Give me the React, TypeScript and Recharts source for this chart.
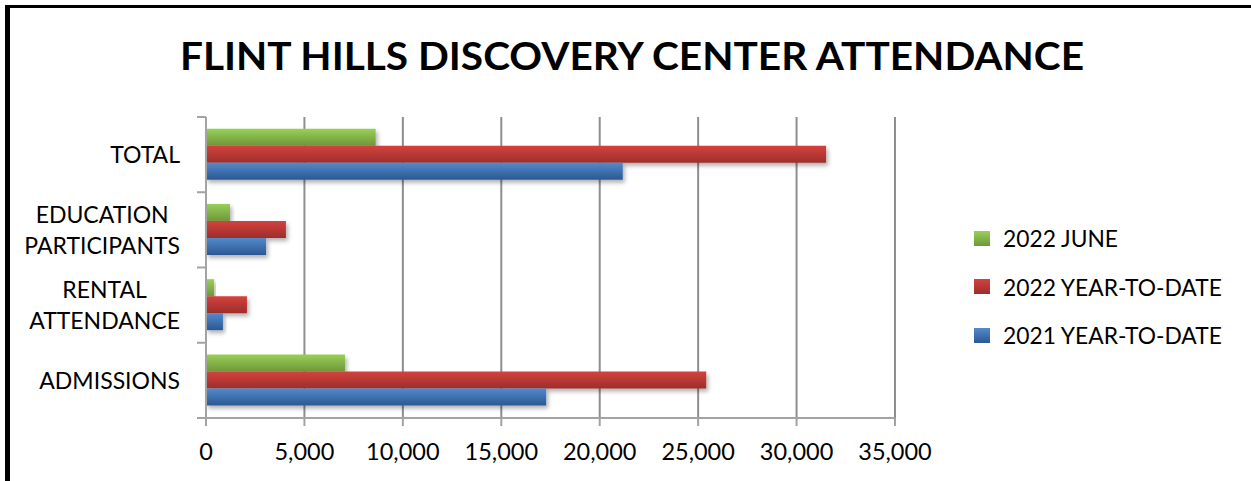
import React from 'react';
import { BarChart, Bar, XAxis, YAxis, CartesianGrid, Legend, Rectangle } from 'recharts';

// ---------- data ----------
const categories = ['TOTAL', 'EDUCATION PARTICIPANTS', 'RENTAL ATTENDANCE', 'ADMISSIONS'];
const june2022 = [8620, 1220, 410, 7060];
const ytd2022 = [31500, 4060, 2080, 25410];
const ytd2021 = [21170, 3050, 860, 17280];
const seriesNames = ['2022 JUNE', '2022 YEAR-TO-DATE', '2021 YEAR-TO-DATE'];
const xTicks = [0, 5000, 10000, 15000, 20000, 25000, 30000, 35000];
const title = 'FLINT HILLS DISCOVERY CENTER ATTENDANCE';

// ---------- styles ----------
const FONT = 'Lato, "Open Sans", sans-serif';
const SERIES = [
  { key: 'june', name: seriesNames[0], top: '#97d157', bottom: '#71963a', id: 'gGreen' },
  { key: 'ytd22', name: seriesNames[1], top: '#d4423e', bottom: '#9d2e2b', id: 'gRed' },
  { key: 'ytd21', name: seriesNames[2], top: '#548acb', bottom: '#2a5894', id: 'gBlue' },
];

const data = categories.map((name, i) => ({
  name,
  june: june2022[i],
  ytd22: ytd2022[i],
  ytd21: ytd2021[i],
}));

const W = 1251;
const H = 481;
const MARGIN = { top: 117, right: 356, bottom: 13, left: 0 };
const X_AXIS_H = 50;
const Y_AXIS_W = 206;
const Y_TICK_SIZE = 9;
const Y_TICK_MARGIN = 17;
const CAT_FONT = 23;
const GRID = '#8e8e8e';
const AXIS = '#a3a3a3';

let measureCtx: CanvasRenderingContext2D | null = null;
function measure(t: string, font: string) {
  if (!measureCtx) measureCtx = document.createElement('canvas').getContext('2d');
  if (!measureCtx) return t.length * 14;
  measureCtx.font = font;
  return measureCtx.measureText(t).width;
}

function CategoryTick(props: any) {
  const { x, y, payload, index, visibleTicksCount } = props;
  const plotH = H - MARGIN.top - MARGIN.bottom - X_AXIS_H;
  const off = payload && typeof payload.offset === 'number' && payload.offset > 0
    ? payload.offset
    : plotH / categories.length / 2;
  const axisX = x + Y_TICK_SIZE + Y_TICK_MARGIN;
  const lines = String(payload.value).split(' ');
  const widths = lines.map((l) => measure(l, `${CAT_FONT}px Lato`));
  const maxW = Math.max(...widths);
  const cx = x - maxW / 2;
  const gap = 31;
  const last = index === (visibleTicksCount ?? categories.length) - 1;
  return (
    <g>
      <line x1={axisX - Y_TICK_SIZE} x2={axisX} y1={y - off} y2={y - off} stroke={AXIS} strokeWidth={2} />
      {last && (
        <line x1={axisX - Y_TICK_SIZE} x2={axisX} y1={y + off} y2={y + off} stroke={AXIS} strokeWidth={2} />
      )}
      <text x={cx} textAnchor="middle" fontFamily={FONT} fontSize={CAT_FONT} fill="#000">
        {lines.map((l, i) => (
          <tspan key={i} x={cx} y={y + (i - (lines.length - 1) / 2) * gap} dy="0.36em">
            {l}
          </tspan>
        ))}
      </text>
    </g>
  );
}

function LegendContent(props: any) {
  const payload = [...(props.payload || [])];
  const order = (p: any) => {
    const i = SERIES.findIndex((q) => q.key === p.dataKey);
    return i < 0 ? 99 : i;
  };
  payload.sort((a, b) => order(a) - order(b));
  return (
    <div style={{ fontFamily: FONT, fontSize: 22.8, color: '#000' }}>
      {payload.map((p: any, i: number) => {
        const s = SERIES.find((q) => q.key === p.dataKey) || SERIES[i];
        return (
          <div key={i} style={{ height: 48.5, display: 'flex', alignItems: 'center', whiteSpace: 'nowrap' }}>
            <span
              style={{
                display: 'inline-block',
                width: 16,
                height: 15,
                marginRight: 13,
                background: `linear-gradient(to bottom, ${s.top}, ${s.bottom})`,
              }}
            />
            <span>{p.value}</span>
          </div>
        );
      })}
    </div>
  );
}

const ShadowBar = (props: any) => <Rectangle {...props} filter="url(#barShadow)" />;

export default function App() {
  return (
    <div style={{ position: 'absolute', left: 0, top: 0, width: W, height: H, background: '#fff', overflow: 'hidden' }}>
      {/* frame */}
      <div style={{ position: 'absolute', left: 5, top: 5, width: W - 5, height: 3, background: '#000' }} />
      <div style={{ position: 'absolute', left: 5, top: 5, width: 5, height: H - 5, background: '#000' }} />

      <div style={{ position: 'absolute', left: 0, top: 0 }}>
        <BarChart
          width={W}
          height={H}
          data={data}
          layout="vertical"
          margin={MARGIN}
          barCategoryGap="15.5%"
          barGap={0}
        >
          <defs>
            {SERIES.map((s) => (
              <linearGradient key={s.id} id={s.id} x1="0" y1="0" x2="0" y2="1">
                <stop offset="0%" stopColor={s.top} />
                <stop offset="100%" stopColor={s.bottom} />
              </linearGradient>
            ))}
            <filter id="barShadow" x="-10%" y="-30%" width="130%" height="180%">
              <feDropShadow dx="2" dy="3" stdDeviation="2" floodColor="#000" floodOpacity="0.3" />
            </filter>
          </defs>
          <CartesianGrid horizontal={false} vertical stroke={GRID} strokeWidth={2} />
          <XAxis
            type="number"
            domain={[0, 35000]}
            ticks={xTicks}
            interval={0}
            height={X_AXIS_H}
            tickSize={8}
            tickMargin={17}
            stroke={AXIS}
            axisLine={{ stroke: AXIS, strokeWidth: 2 }}
            tickLine={{ stroke: AXIS, strokeWidth: 2 }}
            tick={{ fill: '#000', fontSize: 23.5, fontFamily: FONT }}
            tickFormatter={(v: number) => v.toLocaleString('en-US')}
          />
          <YAxis
            type="category"
            dataKey="name"
            width={Y_AXIS_W}
            interval={0}
            tickSize={Y_TICK_SIZE}
            tickMargin={Y_TICK_MARGIN}
            tickLine={false}
            axisLine={{ stroke: AXIS, strokeWidth: 2 }}
            tick={<CategoryTick />}
          />
          <Legend
            layout="vertical"
            align="center"
            verticalAlign="middle"
            itemSorter={null as any}
            content={<LegendContent />}
            wrapperStyle={{ left: 974, top: 213.75, width: 270, height: 150 }}
          />
          {SERIES.map((s) => (
            <Bar
              key={s.key}
              dataKey={s.key}
              name={s.name}
              fill={`url(#${s.id})`}
              isAnimationActive={false}
              shape={ShadowBar}
            />
          ))}
        </BarChart>
      </div>

      <svg
        width={W}
        height={100}
        style={{ position: 'absolute', left: 0, top: 0, pointerEvents: 'none' }}
      >
        <text
          x={632}
          y={70}
          textAnchor="middle"
          fontFamily={FONT}
          fontWeight={700}
          fontSize={39}
          textLength={904}
          lengthAdjust="spacingAndGlyphs"
          fill="#000"
        >
          {title}
        </text>
      </svg>
    </div>
  );
}
